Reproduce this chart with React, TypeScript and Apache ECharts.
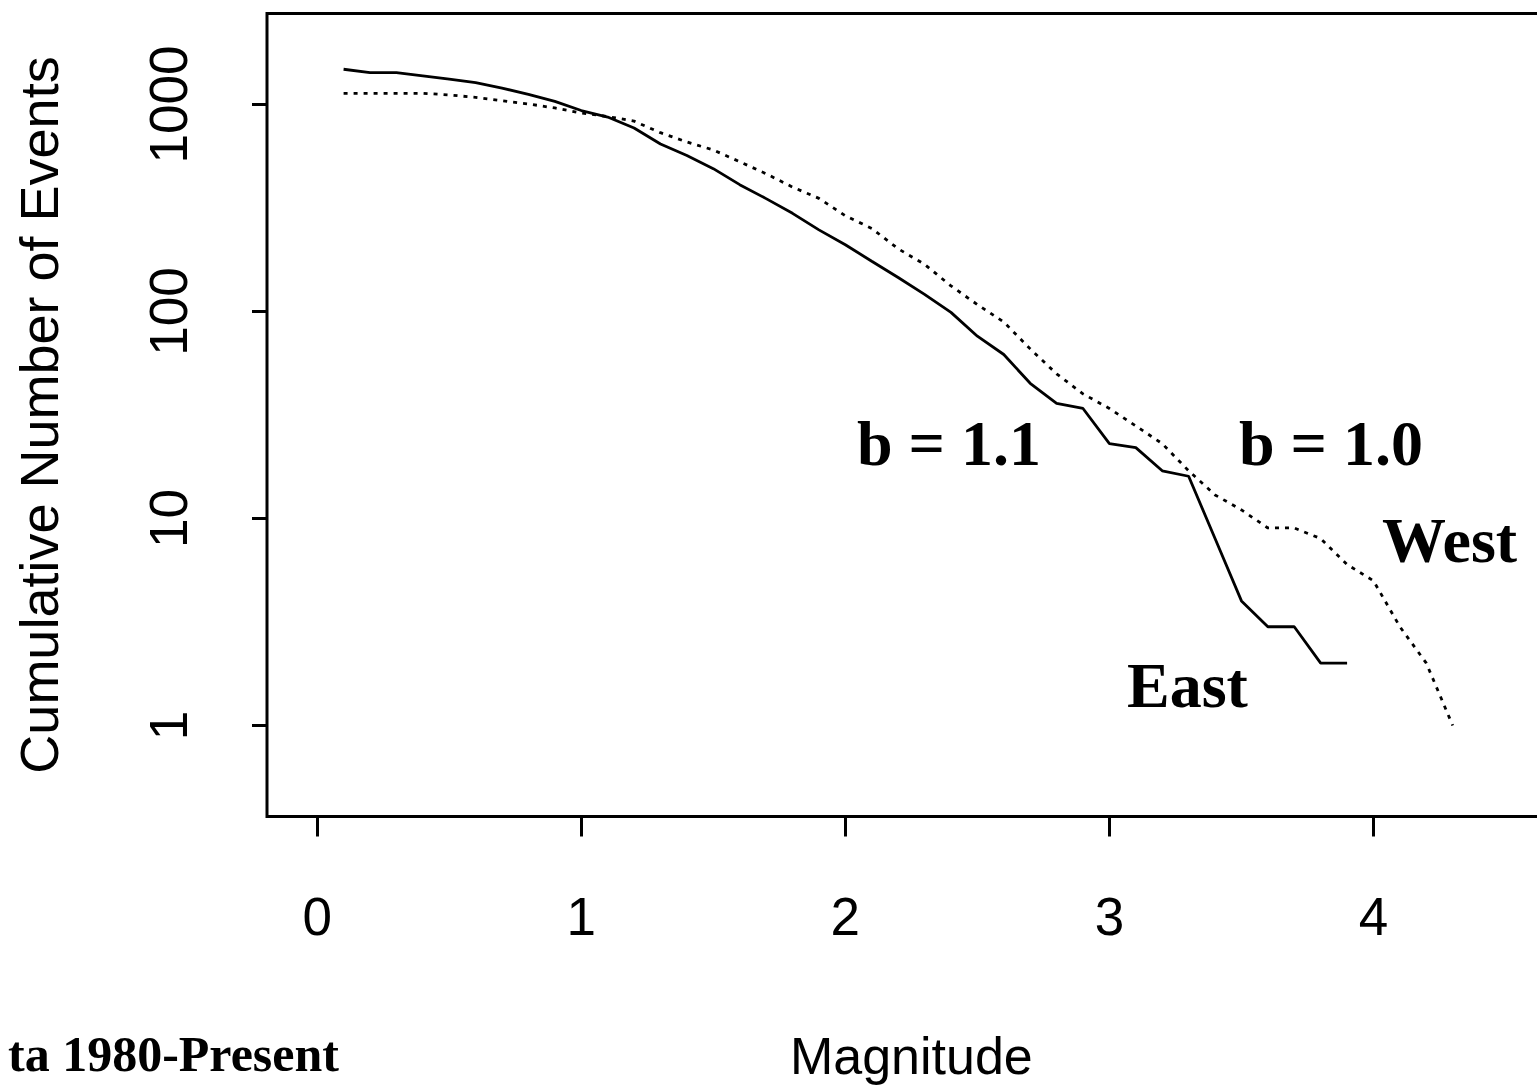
import React, { useEffect, useRef } from "react";
import * as echarts from "echarts";

// Cumulative event counts by magnitude (log scale), two regions
const EAST_MAGNITUDE = [
  0.1, 0.2, 0.3, 0.4, 0.5, 0.6, 0.7, 0.8, 0.9, 1.0,
  1.1, 1.2, 1.3, 1.4, 1.5, 1.6, 1.7, 1.8, 1.9, 2.0,
  2.1, 2.2, 2.3, 2.4, 2.5, 2.6, 2.7, 2.8, 2.9, 3.0,
  3.1, 3.2, 3.3, 3.4, 3.5, 3.6, 3.7, 3.8, 3.9,
];
const EAST_COUNT = [
  1480, 1425, 1425, 1375, 1325, 1275, 1200, 1120, 1035, 935,
  870, 770, 645, 567, 490, 410, 351, 298, 248, 210,
  175, 146, 121, 99, 76, 62, 45, 36, 34, 23,
  22, 17, 16, 8, 4, 3, 3, 2, 2,
];

const WEST_MAGNITUDE = [
  0.1, 0.2, 0.3, 0.4, 0.5, 0.6, 0.7, 0.8, 0.9, 1.0,
  1.1, 1.2, 1.3, 1.4, 1.5, 1.6, 1.7, 1.8, 1.9, 2.0,
  2.1, 2.2, 2.3, 2.4, 2.5, 2.6, 2.7, 2.8, 2.9, 3.0,
  3.1, 3.2, 3.3, 3.4, 3.5, 3.6, 3.7, 3.8, 3.9, 4.0,
  4.1, 4.2, 4.3,
];
const WEST_COUNT = [
  1133, 1133, 1133, 1133, 1112, 1083, 1043, 1006, 962, 910,
  875, 831, 731, 659, 603, 529, 463, 399, 352, 290,
  252, 201, 169, 133, 108, 89, 66, 50, 40, 34,
  28, 23, 17, 13, 11, 9, 9, 8, 6, 5,
  3, 2, 1,
];

const X_TICKS = [0, 1, 2, 3, 4];
const Y_TICKS = [1, 10, 100, 1000];

const SANS = '"Liberation Sans", Arial, sans-serif';
const SERIF = '"Liberation Serif", "Times New Roman", serif';

function pairs(xs: number[], ys: number[]): number[][] {
  return xs.map((x, i) => [x, ys[i]]);
}

function noteText(text: string, x: number, y: number, size: number, lineHeight?: number) {
  return {
    type: "text",
    x,
    y,
    silent: true,
    style: {
      text,
      fill: "#000",
      fontFamily: SERIF,
      fontWeight: "bold",
      fontSize: size,
      lineHeight: lineHeight ?? size,
      align: "left",
      verticalAlign: "middle",
    },
  };
}

export default function App() {
  const ref = useRef<HTMLDivElement | null>(null);

  useEffect(() => {
    if (!ref.current) return;
    const chart = echarts.init(ref.current, undefined, { renderer: "svg" });

    const tickStyle = { color: "#000", width: 3 };
    const labelFont = { fontFamily: SANS, fontSize: 53, color: "#000" };

    chart.setOption({
      animation: false,
      backgroundColor: "#ffffff",
      grid: {
        left: 267,
        top: 13.5,
        width: 1288.7,
        bottom: 269.5,
        show: true,
        borderColor: "#000",
        borderWidth: 3,
        backgroundColor: "transparent",
        containLabel: false,
        outerBoundsMode: "none",
      },
      xAxis: {
        type: "value",
        min: -0.19,
        max: 4.69,
        axisLine: { show: false, onZero: false },
        splitLine: { show: false },
        axisTick: {
          show: true,
          length: 20,
          lineStyle: tickStyle,
          customValues: X_TICKS,
        },
        axisLabel: {
          ...labelFont,
          customValues: X_TICKS,
          margin: 73,
          formatter: (v: number) => String(Math.round(v)),
        },
        name: "Magnitude",
        nameLocation: "middle",
        nameGap: 213,
        nameTextStyle: { fontFamily: SANS, fontSize: 52, color: "#000" },
      },
      yAxis: {
        type: "log",
        logBase: 10,
        min: 0.3634,
        max: 2752,
        axisLine: { show: false, onZero: false },
        splitLine: { show: false },
        minorTick: { show: false },
        axisTick: {
          show: true,
          length: 15,
          lineStyle: tickStyle,
          customValues: Y_TICKS,
        },
        axisLabel: {
          ...labelFont,
          customValues: Y_TICKS,
          rotate: 90,
          margin: 72,
          formatter: (v: number) => String(Math.round(v)),
        },
        name: "Cumulative Number of Events",
        nameLocation: "middle",
        nameGap: 201,
        nameTextStyle: { fontFamily: SANS, fontSize: 54, color: "#000" },
      },
      series: [
        {
          name: "East",
          type: "line",
          data: pairs(EAST_MAGNITUDE, EAST_COUNT),
          showSymbol: false,
          symbol: "none",
          lineStyle: { color: "#000", width: 2.8, type: "solid" },
          z: 3,
        },
        {
          name: "West",
          type: "line",
          data: pairs(WEST_MAGNITUDE, WEST_COUNT),
          showSymbol: false,
          symbol: "none",
          lineStyle: { color: "#000", width: 2.8, type: [4, 6] },
          z: 3,
        },
      ],
      graphic: [
        noteText("b = 1.1", 857, 443, 64),
        noteText("b = 1.0", 1239, 443, 64),
        noteText("West", 1382, 540, 64),
        noteText("East", 1127, 685, 64),
        noteText("ta 1980-Present", 8, 1054, 50, 50),
      ],
    });

    return () => {
      chart.dispose();
    };
  }, []);

  return (
    <div
      ref={ref}
      style={{
        position: "fixed",
        left: 0,
        top: 0,
        width: 1537,
        height: 1086,
        background: "#fff",
      }}
    />
  );
}
